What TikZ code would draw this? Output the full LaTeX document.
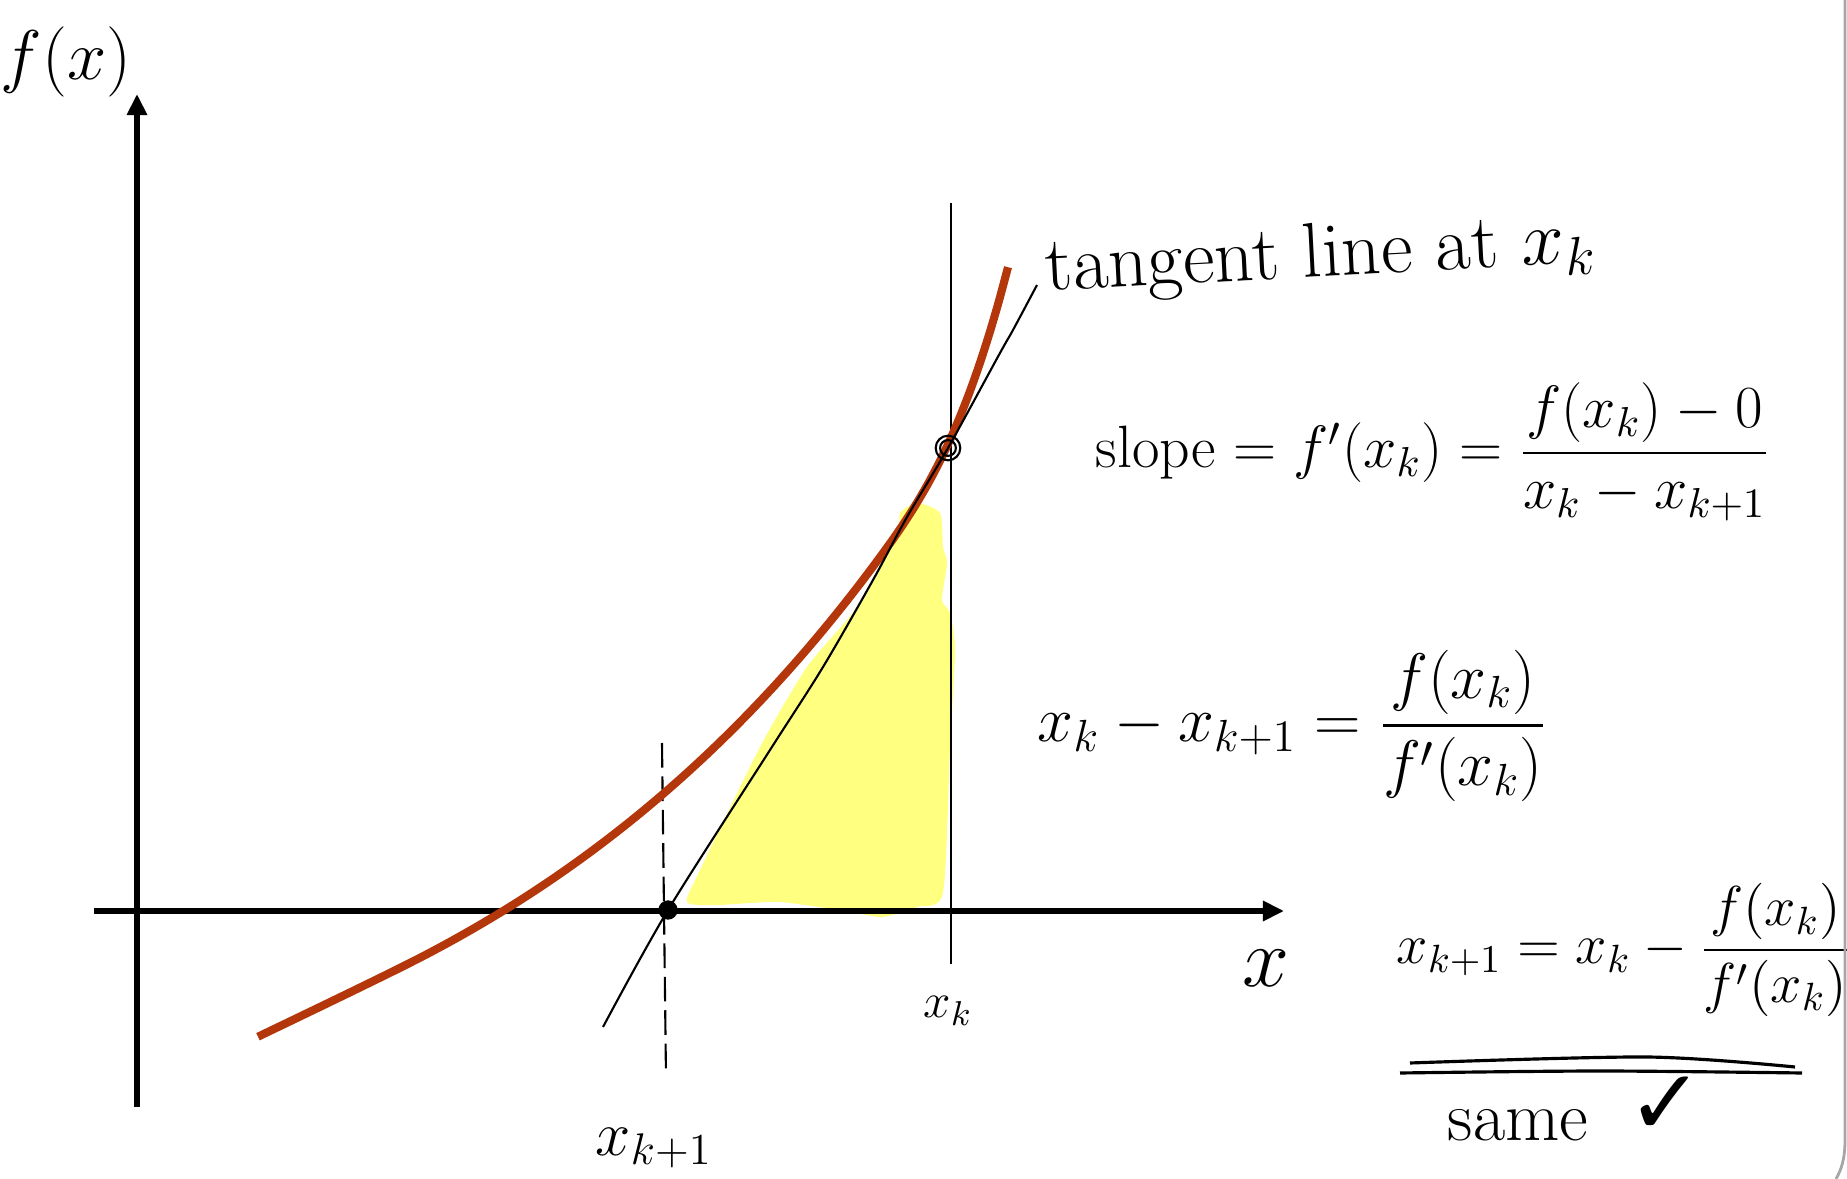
\RequirePackage{fix-cm}
\documentclass[tikz,border=0pt]{standalone}
\usepackage{amsmath}
\usepackage{fontspec}
\newfontfamily\symfont{DejaVu Sans}
\usetikzlibrary{arrows.meta}

\definecolor{curvered}{RGB}{180,55,12}
\definecolor{hilite}{RGB}{255,255,128}

\begin{document}
\begin{tikzpicture}[x=0.01cm, y=-0.01cm,
    axis/.style={line width=1.6pt, -{Triangle[length=6pt, width=5.5pt]}},
    thinline/.style={line width=0.6pt},
    eqn/.style={anchor=west, inner sep=0pt, font=\fontsize{17}{21}\selectfont},
    hand/.style={inner sep=0pt, font=\fontsize{20}{24}\selectfont}]
    \useasboundingbox (0,0) rectangle (1847,1179);

    % Yellow patch between tangent and x_k
    \fill[hilite] plot[smooth cycle, tension=0.4] coordinates {
        (687,902) (700,870) (760,747) (807,667) (857,607) (897,533)
        (900,513) (917,503) (940,513) (943,547) (947,563) (942,600)
        (950,613) (955,650) (950,748) (943,893) (917,907) (883,917)
        (850,912) (780,902) (717,905)};

    % Axes
    \coordinate (xleft) at (94,911);
    \coordinate (xright) at (1284,911);
    \coordinate (ybot) at (137,1107);
    \coordinate (ytop) at (137,94);
    \draw[axis] (xleft) -- (xright);
    \draw[axis] (ybot) -- (ytop);

    % Vertical guides at x_k and x_{k+1}
    \coordinate (kTop) at (951,203);
    \coordinate (kBot) at (951,964);
    \draw[line width=0.7pt] (kTop) -- (kBot);
    \coordinate (k1Top) at (662,743);
    \coordinate (k1Bot) at (666,1077);
    \draw[thinline, dash pattern=on 7pt off 2.5pt] (k1Top) -- (k1Bot);

    % The function
    \draw[curvered, line width=2.3pt] plot[domain=258:1008, samples=80, smooth]
        (\x, {911 - (292*(exp(0.0021*(\x-503))-1) + 43*(max(0,(\x-880)/100))^3 - 4*(max(0,(400-\x)/100))^2)});

    % Tangent line through both points
    \coordinate (pk) at (948,448);
    \coordinate (pk1) at (668,910);
    \draw[thinline] plot[smooth, tension=0.5] coordinates {
        (603,1027) (pk1) (770,750) (823,667) (873,580) (907,517) (pk)
        (1000,353) (1013,330) (1037,285)};

    \node[circle, draw, thinline, minimum size=7pt, inner sep=0pt] (xkdot) at (pk) {};
    \node[circle, draw, thinline, minimum size=4.5pt, inner sep=0pt] (xkin) at (pk) {};
    \node[circle, fill, minimum size=5.5pt, inner sep=0pt] (xk1dot) at (pk1) {};

    % Labels on the plot
    \node[font=\fontsize{20}{24}\selectfont] (fx) at (66,62) {$f(x)$};
    \node[font=\fontsize{14}{16}\selectfont] (xklbl) at (948,1011) {$x_k$};
    \node[font=\fontsize{24}{28}\selectfont] (xlbl) at (1266,968) {$x$};
    \node[font=\fontsize{18}{22}\selectfont] (xk1lbl) at (654,1148) {$x_{k+1}$};
    \node[hand, anchor=west, rotate=3, font=\fontsize{22}{26}\selectfont] (tanlbl) at (1045,272) {tangent line at $x_k$};

    % Derivation
    \node[eqn] (slope) at (1095,452) {slope $= f'(x_k) = \dfrac{f(x_k)-0}{x_k-x_{k+1}}$};
    \node[eqn, font=\fontsize{18.3}{22}\selectfont] (diff) at (1037,726) {$x_k - x_{k+1} = \dfrac{f(x_k)}{f'(x_k)}$};
    \node[eqn, font=\fontsize{16}{20}\selectfont] (newton) at (1396,950) {$x_{k+1} = x_k - \dfrac{f(x_k)}{f'(x_k)}$};

    % Double underline and check
    \draw[line width=0.9pt] plot[smooth] coordinates {(1410,1063) (1647,1057) (1795,1067)};
    \draw[line width=0.9pt] plot[smooth] coordinates {(1400,1073) (1600,1071) (1802,1073)};
    \node[hand] (same) at (1518,1125) {same};
    \node[font=\symfont\fontsize{26}{30}\selectfont] (check) at (1666,1106) {✓};

    % Page edge
    \draw[gray!70, line width=0.8pt] (1845,0) -- (1845,1140) .. controls (1845,1160) and (1841,1170) .. (1836,1179);
\end{tikzpicture}
\end{document}
